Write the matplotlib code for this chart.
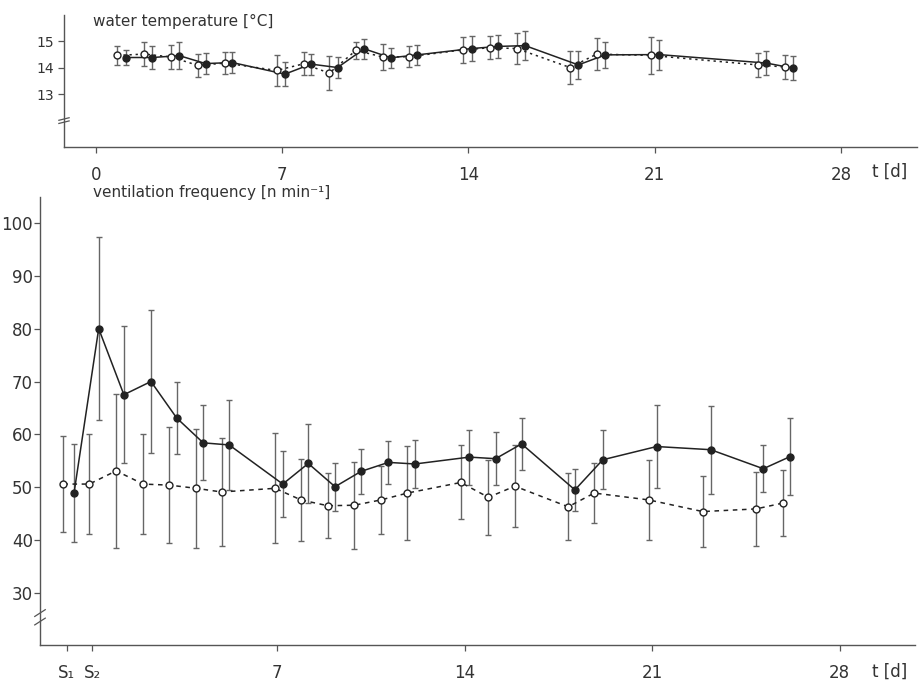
import matplotlib
matplotlib.use("Agg")
import matplotlib.pyplot as plt

plt.rcParams['font.family'] = ['DejaVu Sans']

# ---------------- data: water temperature (top panel) ----------------
temp_open_day = [0.8, 1.82, 2.82, 3.83, 4.85, 6.79, 7.8, 8.77, 9.77, 10.78, 11.78,
                 13.78, 14.81, 15.81, 17.82, 18.82, 20.85, 24.87, 25.88]
temp_open_val = [14.47, 14.52, 14.41, 14.09, 14.18, 13.9, 14.15, 13.8, 14.66, 14.41, 14.42,
                 14.68, 14.76, 14.73, 14.01, 14.52, 14.47, 14.11, 14.03]
temp_open_sd = [0.35, 0.47, 0.47, 0.42, 0.42, 0.6, 0.43, 0.63, 0.33, 0.5, 0.4,
                0.5, 0.44, 0.6, 0.62, 0.6, 0.69, 0.45, 0.46]
temp_fill_day = [1.13, 2.12, 3.13, 4.12, 5.12, 7.1, 8.08, 9.08, 10.08, 11.08, 12.08,
                 14.12, 15.12, 16.13, 18.13, 19.14, 21.17, 25.19, 26.19]
temp_fill_val = [14.39, 14.39, 14.46, 14.16, 14.2, 13.76, 14.14, 14.01, 14.72, 14.38, 14.49,
                 14.73, 14.81, 14.84, 14.11, 14.49, 14.5, 14.18, 13.99]
temp_fill_sd = [0.28, 0.43, 0.5, 0.4, 0.38, 0.46, 0.4, 0.4, 0.38, 0.37, 0.37,
                0.46, 0.45, 0.55, 0.53, 0.48, 0.57, 0.47, 0.44]

# ---------------- data: ventilation frequency (bottom panel) ----------------
vent_open_day = [-0.97, 0.0, 1.0, 2.01, 2.99, 3.98, 4.94, 6.93, 7.9, 8.9, 9.89, 10.88,
                 11.87, 13.86, 14.89, 15.88, 17.87, 18.84, 20.88, 22.89, 24.88, 25.87]
vent_open_val = [50.6, 50.6, 53.1, 50.6, 50.4, 49.8, 49.1, 49.8, 47.6, 46.5, 46.6, 47.6,
                 48.9, 50.9, 48.1, 50.2, 46.3, 48.9, 47.6, 45.4, 45.9, 47.0]
vent_open_sd = [9.0, 9.5, 14.6, 9.5, 11.0, 11.2, 10.2, 10.4, 7.8, 6.1, 8.2, 6.4,
                8.9, 7.0, 7.1, 7.7, 6.3, 5.6, 7.6, 6.7, 7.0, 6.2]
vent_fill_day = [-0.57, 0.35, 1.29, 2.3, 3.26, 4.25, 5.22, 7.22, 8.17, 9.17, 10.14, 11.16,
                 12.15, 14.18, 15.16, 16.13, 18.12, 19.16, 21.17, 23.19, 25.15, 26.15]
vent_fill_val = [48.9, 80.0, 67.5, 70.0, 63.1, 58.4, 58.0, 50.6, 54.5, 50.1, 53.0, 54.7,
                 54.4, 55.7, 55.4, 58.2, 49.5, 55.2, 57.7, 57.1, 53.5, 55.8]
vent_fill_sd = [9.2, 17.3, 13.0, 13.5, 6.9, 7.1, 8.5, 6.3, 7.5, 4.5, 4.2, 4.1,
                4.5, 5.2, 5.0, 4.9, 4.0, 5.6, 7.9, 8.3, 4.4, 7.3]

top_xticks = [0, 7, 14, 21, 28]
top_xlabels = ['0', '7', '14', '21', '28']
top_yticks = [13, 14, 15]
bot_xticks = [-0.84, 0.11, 7, 14, 21, 28]
bot_xlabels = ['S₁', 'S₂', '7', '14', '21', '28']
bot_yticks = [30, 40, 50, 60, 70, 80, 90, 100]

INK = '#222222'
BAR = '#666666'
TXT = '#333333'
W, H = 922, 685

fig = plt.figure(figsize=(W / 100, H / 100), dpi=100)


def px_axes(x0, x1, y_top, y_bot):
    return fig.add_axes([x0 / W, 1 - y_bot / H, (x1 - x0) / W, (y_bot - y_top) / H])


def style(ax):
    for s in ('top', 'right'):
        ax.spines[s].set_visible(False)
    for s in ('left', 'bottom'):
        ax.spines[s].set_color('#555555')
        ax.spines[s].set_linewidth(1.0)
    ax.tick_params(colors='#555555', labelcolor=TXT, direction='out', length=4, width=0.9)


def draw_series(ax, x, y, sd, filled, ls, ms):
    ax.errorbar(x, y, yerr=sd, fmt='none', ecolor=BAR, elinewidth=1.0,
                capsize=2.5, capthick=1.0, zorder=2)
    ax.plot(x, y, ls=ls, color=INK, lw=1.1, zorder=3)
    ax.plot(x, y, ls='none', marker='o', ms=ms, mec=INK, mew=1.0,
            mfc=INK if filled else 'white', zorder=4)


def break_mark(ax, yval, dy):
    tr = ax.get_yaxis_transform()
    for off in (-dy / 2, dy / 2):
        ax.plot([-0.006, 0.006], [yval + off - dy * 0.4, yval + off + dy * 0.4],
                transform=tr, color='#555555', lw=0.9, clip_on=False, zorder=5)


# ---------------- top panel ----------------
ax1 = px_axes(64, 917, 15, 147)
style(ax1)
ax1.set_xlim(-1.203, 30.86)
ax1.set_ylim(11.0, 16.0)
draw_series(ax1, temp_open_day, temp_open_val, temp_open_sd, False, (0, (1.5, 2.5)), 5)
draw_series(ax1, temp_fill_day, temp_fill_val, temp_fill_sd, True, '-', 5)
ax1.set_xticks(top_xticks)
ax1.set_xticklabels(top_xlabels, fontsize=12)
ax1.set_yticks(top_yticks)
ax1.set_yticklabels([str(v) for v in top_yticks], fontsize=10)
ax1.tick_params(axis='x', pad=10)
ax1.tick_params(axis='y', pad=3)
break_mark(ax1, 12.0, 0.12)
fig.text(93 / W, 1 - 21 / H, 'water temperature [°C]', fontsize=11, color=TXT,
         va='center', ha='left')
fig.text(872 / W, 1 - 172 / H, 't [d]', fontsize=12, color=TXT, va='center', ha='left')

# ---------------- bottom panel ----------------
ax2 = px_axes(40, 915, 197, 645)
style(ax2)
ax2.set_xlim(-1.84, 30.81)
ax2.set_ylim(20.16, 104.9)
draw_series(ax2, vent_open_day, vent_open_val, vent_open_sd, False, (0, (3, 3)), 5)
draw_series(ax2, vent_fill_day, vent_fill_val, vent_fill_sd, True, '-', 5)
ax2.set_xticks(bot_xticks)
ax2.set_xticklabels(bot_xlabels, fontsize=12)
ax2.set_yticks(bot_yticks)
ax2.set_yticklabels([str(v) for v in bot_yticks], fontsize=12)
ax2.tick_params(axis='x', pad=10)
ax2.tick_params(axis='y', pad=1)
break_mark(ax2, 25.4, 1.6)
fig.text(93 / W, 1 - 192 / H, 'ventilation frequency [n min⁻¹]', fontsize=11, color=TXT,
         va='center', ha='left')
fig.text(872 / W, 1 - 672 / H, 't [d]', fontsize=12, color=TXT, va='center', ha='left')

fig.savefig('out.png', dpi=100)
